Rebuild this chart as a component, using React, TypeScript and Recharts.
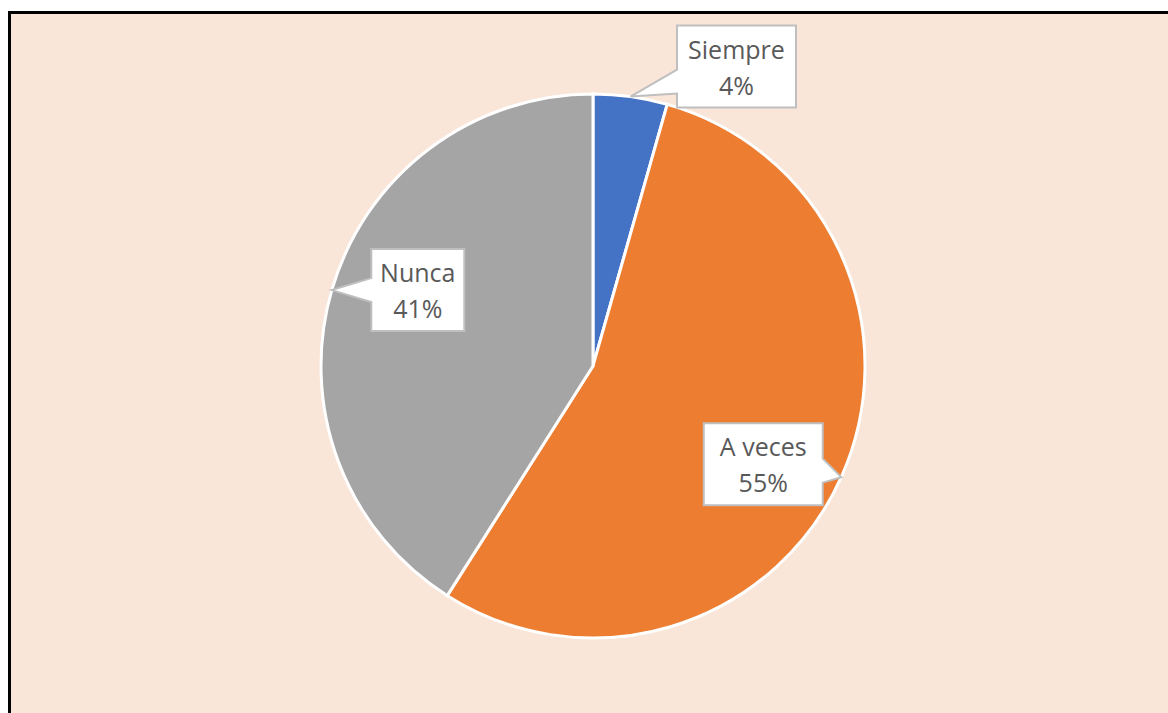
import React from 'react';
import { PieChart, Pie, Cell } from 'recharts';

// valores del gráfico (porcentajes)
const categories = ['Siempre', 'A veces', 'Nunca'];
const values = [4.4, 54.6, 41];
const colors = ['#4472C4', '#ED7D31', '#A5A5A5'];
// desplazamiento del centro de cada etiqueta respecto a la punta
const calloutOffsets = [
  [106, -30],
  [-78, -13],
  [86, 0],
];

const data = categories.map((name, i) => ({ name, value: values[i] }));

const RAD = Math.PI / 180;

const Callout = (props: any) => {
  const { cx, cy, midAngle, outerRadius, percent, name, index } = props;
  const tx = cx + outerRadius * Math.cos(-midAngle * RAD);
  const ty = cy + outerRadius * Math.sin(-midAngle * RAD);
  const [ox, oy] = calloutOffsets[index];
  const bx = tx + ox;
  const by = ty + oy;
  const w = name.length * 13 + 28;
  const h = 82;
  const l = bx - w / 2;
  const r = bx + w / 2;
  const t = by - h / 2;
  const b = by + h / 2;
  // base del puntero
  const mid = Math.max(t + 14, Math.min(b - 14, by + (ty - by) * 0.5));
  const b1 = mid - 12;
  const b2 = mid + 12;
  let d: string;
  if (tx < l) {
    d = `M${l},${t} L${r},${t} L${r},${b} L${l},${b} L${l},${b2} L${tx},${ty} L${l},${b1} Z`;
  } else {
    d = `M${l},${t} L${r},${t} L${r},${b1} L${tx},${ty} L${r},${b2} L${r},${b} L${l},${b} Z`;
  }
  return (
    <g>
      <path d={d} fill="#FFFFFF" stroke="#BFBFBF" strokeWidth={2} />
      <text x={bx} y={t + 33} textAnchor="middle" fontSize={25} fill="#595959" fontFamily="'Open Sans', sans-serif">
        {name}
      </text>
      <text x={bx} y={t + 69} textAnchor="middle" fontSize={25} fill="#595959" fontFamily="'Open Sans', sans-serif">
        {Math.round(percent * 100)}%
      </text>
    </g>
  );
};

export default function App() {
  return (
    <div style={{ position: 'fixed', left: 0, top: 0, width: 1168, height: 713, background: '#FFFFFF', overflow: 'hidden' }}>
      <div
        style={{
          position: 'absolute',
          left: 8,
          top: 11,
          width: 1160,
          height: 702,
          background: '#FAE5D9',
          borderLeft: '3px solid #000',
          borderTop: '3px solid #000',
        }}
      >
        <PieChart width={1157} height={699}>
          <Pie
            data={data}
            dataKey="value"
            nameKey="name"
            cx={577}
            cy={347}
            outerRadius={272}
            startAngle={90}
            endAngle={-270}
            stroke="#FFFFFF"
            strokeWidth={3}
            label={Callout}
            labelLine={false}
            isAnimationActive={false}
          >
            {data.map((d, i) => (
              <Cell key={d.name} fill={colors[i]} />
            ))}
          </Pie>
        </PieChart>
      </div>
    </div>
  );
}
